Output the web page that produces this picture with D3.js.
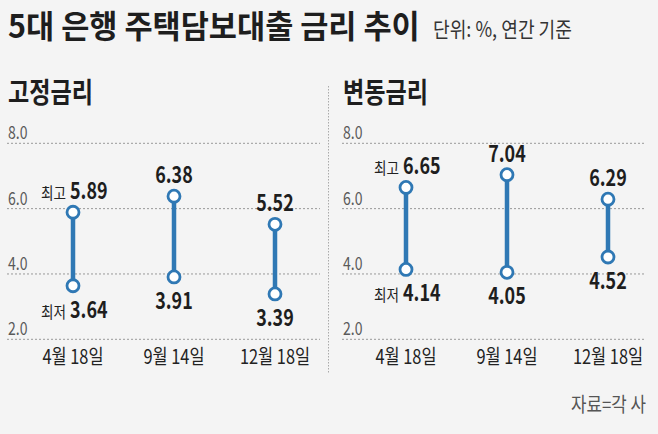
<!DOCTYPE html>
<html>
<head>
<meta charset="utf-8">
<script src="https://cdn.jsdelivr.net/npm/d3@7"></script>
<style>
  html, body { margin: 0; padding: 0; background: #f4f4f4; }
  svg { display: block; font-family: "Noto Sans CJK KR", "Noto Sans", sans-serif; }
</style>
</head>
<body>
<svg id="id_svg" width="658" height="434"></svg>
<script>
dates = ["4월 18일", "9월 14일", "12월 18일"]
fixedHigh = [5.89, 6.38, 5.52]
fixedLow = [3.64, 3.91, 3.39]
floatHigh = [6.65, 7.04, 6.29]
floatLow = [4.14, 4.05, 4.52]
yTicks = [2, 4, 6, 8]

width = 658
height = 434
blue = "#2f78b4"

panels = [
    { title: "고정금리", high: fixedHigh, low: fixedLow, gx: [7, 320], px: [73, 275] },
    { title: "변동금리", high: floatHigh, low: floatLow, gx: [342, 646], px: [406, 608] }
]

// narrow text: a group at the anchor point, scaled horizontally.
// f < 1 is a squeeze factor, f > 1 is a target width in px
function squeezed(sel, f) {
    sel.each(function() {
        const t = d3.select(this).select("text").node();
        const w = t.getComputedTextLength();
        const k = f > 1 ? f / w : f;
        const g = d3.select(this);
        g.attr("transform", g.attr("transform") + ` scale(${k},1)`);
    });
    return sel;
}

chart = function() {
    const svg = d3.select("#id_svg").attr("viewBox", [0, 0, width, height]);

    const y = d3.scaleLinear().domain([2, 8]).range([339.3, 143.3]);

    const title = svg.append("g").attr("transform", "translate(8,37.5)");
    title.append("text")
        .attr("font-size", 32).attr("font-weight", 700).attr("fill", "#1e1e1e")
        .text("5대 은행 주택담보대출 금리 추이");
    squeezed(title, 412);

    const unit = svg.append("g").attr("transform", "translate(433,37)");
    unit.append("text")
        .attr("font-size", 21).attr("fill", "#333")
        .text("단위: %, 연간 기준");
    squeezed(unit, 139);

    // separator between panels
    svg.append("line")
        .attr("x1", 328.5).attr("x2", 328.5).attr("y1", 86).attr("y2", 374)
        .attr("stroke", "#aaa").attr("stroke-dasharray", "1.5,1.5");

    for (const p of panels) {
        const g = svg.append("g");
        const x = d3.scalePoint().domain(dates).range(p.px);

        const head = g.append("g").attr("transform", `translate(${p.gx[0] + 1},103)`);
        head.append("text")
            .attr("font-size", 28).attr("font-weight", 700).attr("fill", "#1e1e1e")
            .text(p.title);
        squeezed(head, 85);

        g.selectAll(".grid").data(yTicks).join("line")
            .attr("x1", p.gx[0]).attr("x2", p.gx[1])
            .attr("y1", d => y(d)).attr("y2", d => y(d))
            .attr("stroke", "#999").attr("stroke-dasharray", "2,2");

        const ticks = g.selectAll(".tick").data(yTicks).join("g")
            .attr("transform", d => `translate(${p.gx[0] + 1},${y(d) - 4})`);
        ticks.append("text")
            .attr("font-size", 18).attr("fill", "#5a5a5a")
            .text(d => d.toFixed(1));
        squeezed(ticks, 0.78);

        const dl = g.selectAll(".date").data(dates).join("g")
            .attr("transform", d => `translate(${x(d)},364)`);
        dl.append("text")
            .attr("text-anchor", "middle")
            .attr("font-size", 20).attr("fill", "#222")
            .text(d => d);
        squeezed(dl, 0.82);

        const rows = dates.map((d, i) => ({ date: d, i, high: p.high[i], low: p.low[i] }));

        g.selectAll(".bar").data(rows).join("line")
            .attr("x1", d => x(d.date)).attr("x2", d => x(d.date))
            .attr("y1", d => y(d.high)).attr("y2", d => y(d.low))
            .attr("stroke", blue).attr("stroke-width", 4.5);

        g.selectAll(".dot").data(rows.flatMap(d => [{ date: d.date, v: d.high }, { date: d.date, v: d.low }]))
            .join("circle")
            .attr("cx", d => x(d.date)).attr("cy", d => y(d.v)).attr("r", 6)
            .attr("fill", "#fff").attr("stroke", blue).attr("stroke-width", 2.8);

        // value labels: first date is left-aligned with a caption, others centered
        const labels = rows.flatMap(d => [
            { date: d.date, i: d.i, v: d.high, dy: -13, cap: "최고" },
            { date: d.date, i: d.i, v: d.low, dy: 32, cap: "최저" }
        ]);

        const vals = g.selectAll(".val").data(labels).join("g")
            .attr("transform", d => `translate(${d.i === 0 ? x(d.date) - 3 : x(d.date)},${y(d.v) + d.dy})`);
        vals.append("text")
            .attr("text-anchor", d => d.i === 0 ? "start" : "middle")
            .attr("font-size", 23).attr("font-weight", 700).attr("fill", "#1e1e1e")
            .text(d => d.v.toFixed(2));
        squeezed(vals, 0.78);

        const caps = g.selectAll(".cap").data(labels.filter(d => d.i === 0)).join("g")
            .attr("transform", d => `translate(${x(d.date) - 7},${y(d.v) + d.dy})`);
        caps.append("text")
            .attr("text-anchor", "end")
            .attr("font-size", 16).attr("fill", "#222")
            .text(d => d.cap);
        squeezed(caps, 0.85);
    }

    const src = svg.append("g").attr("transform", "translate(646,412)");
    src.append("text")
        .attr("text-anchor", "end")
        .attr("font-size", 20).attr("fill", "#555")
        .text("자료=각 사");
    squeezed(src, 75);

    return svg.node();
}
chart()
</script>
</body>
</html>
